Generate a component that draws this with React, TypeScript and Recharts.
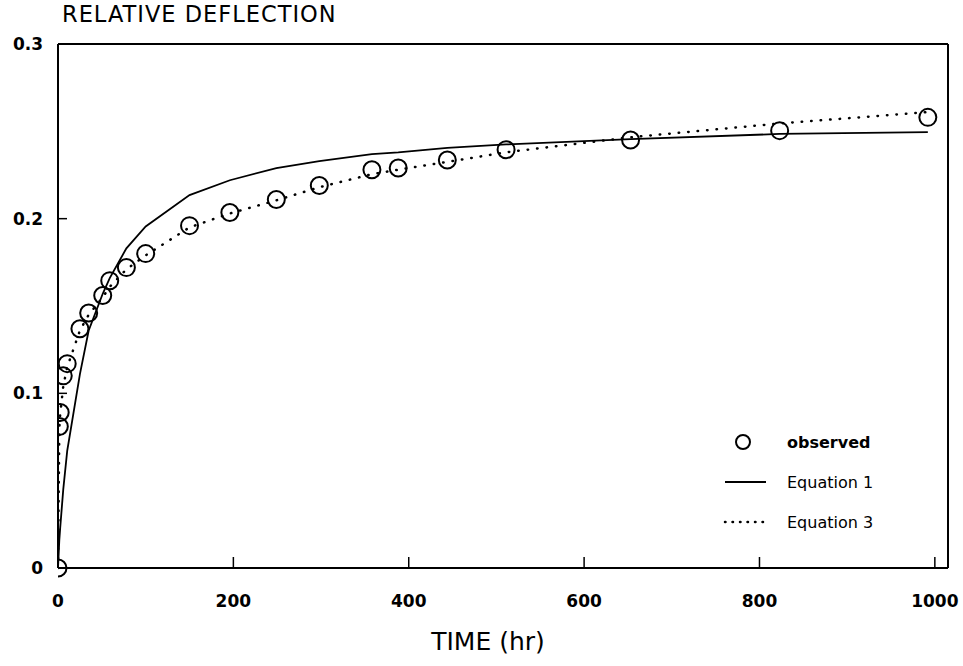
import React from "react";
import {ComposedChart, Line, Scatter, XAxis, YAxis, ReferenceLine, Legend, Label} from "recharts";

const obsTime = [0, 1.5, 2.5, 6, 10.5, 25, 35, 51, 59, 78, 100, 150, 196, 249, 298, 358, 388, 444, 511, 653, 823, 992];
const observed = [0, 0.081, 0.089, 0.110, 0.117, 0.137, 0.146, 0.156, 0.1645, 0.172, 0.180, 0.196, 0.2035, 0.211, 0.219, 0.228, 0.229, 0.2336, 0.2395, 0.245, 0.2504, 0.258];
const equation1 = [0, 0.016, 0.023, 0.045, 0.067, 0.111, 0.136, 0.157, 0.166, 0.183, 0.1955, 0.2135, 0.222, 0.229, 0.233, 0.237, 0.238, 0.2405, 0.2425, 0.2455, 0.2485, 0.2495];
const equation3 = [0, 0.08, 0.088, 0.104, 0.115, 0.136, 0.145, 0.155, 0.161, 0.171, 0.179, 0.195, 0.203, 0.2105, 0.218, 0.2255, 0.228, 0.2325, 0.238, 0.2466, 0.2545, 0.261];

const xTicks = [0, 200, 400, 600, 800, 1000];
const yTicks = [0, 0.1, 0.2, 0.3];

const obsData = obsTime.map((t, i) => ({t, v: observed[i]}));
const eq1Data = obsTime.map((t, i) => ({t, v: equation1[i]}));
const eq3Data = obsTime.map((t, i) => ({t, v: equation3[i]}));

const font = "'DejaVu Sans', sans-serif";

const Ring = (props: any) => (
    <circle cx={props.cx} cy={props.cy} r={8.5} fill="none" stroke="#000" strokeWidth={2} />
);

// ticks point into the plot, labels sit outside
const XTick = (props: any) => {
    const {x, y, payload} = props;
    return (
        <g>
            {payload.value > 0 && <line x1={x} y1={y} x2={x} y2={y - 11} stroke="#000" strokeWidth={1.5} />}
            <text x={x} y={y + 39} textAnchor="middle" fill="#000" fontSize={17} fontWeight="bold" fontFamily={font}>
                {payload.value}
            </text>
        </g>
    );
};

const YTick = (props: any) => {
    const {x, y, payload} = props;
    const v = payload.value;
    return (
        <g>
            {v > 0 && v < 0.3 && <line x1={x} y1={y} x2={x + 9} y2={y} stroke="#000" strokeWidth={1.5} />}
            <text x={x - 15} y={y + 6} textAnchor="end" fill="#000" fontSize={17} fontWeight="bold" fontFamily={font}>
                {v === 0 ? "0" : v.toFixed(1)}
            </text>
        </g>
    );
};

const renderLegend = () => (
    <div style={{fontFamily: font, fontSize: 16, fontWeight: "bold", color: "#000"}}>
        <div style={{display: "flex", alignItems: "center", height: 40}}>
            <svg width={72} height={20}><circle cx={28} cy={10} r={7} fill="none" stroke="#000" strokeWidth={2} /></svg>
            <span>observed</span>
        </div>
        <div style={{display: "flex", alignItems: "center", height: 40}}>
            <svg width={72} height={20}><line x1={10} y1={10} x2={51} y2={10} stroke="#000" strokeWidth={1.8} /></svg>
            <span style={{fontWeight: "normal"}}>Equation 1</span>
        </div>
        <div style={{display: "flex", alignItems: "center", height: 40}}>
            <svg width={72} height={20}><line x1={10} y1={10} x2={51} y2={10} stroke="#000" strokeWidth={2.5} strokeDasharray="0.5 7" strokeLinecap="round" /></svg>
            <span style={{fontWeight: "normal"}}>Equation 3</span>
        </div>
    </div>
);

export default function App() {
    return (
        <div style={{position: "absolute", left: 0, top: 0, width: 963, height: 666, background: "#fff"}}>
            <div style={{position: "absolute", left: 62, top: 1, fontFamily: font, fontSize: 22.5, color: "#000", letterSpacing: 1, zIndex: 2}}>
                RELATIVE DEFLECTION
            </div>
            <ComposedChart width={963} height={666} margin={{top: 44, right: 15, left: 0, bottom: 10}}>
                <XAxis
                    type="number"
                    dataKey="t"
                    domain={[0, 1015]}
                    ticks={xTicks}
                    allowDataOverflow
                    height={88}
                    tickSize={0}
                    tickMargin={0}
                    tickLine={false}
                    axisLine={{stroke: "#000", strokeWidth: 2}}
                    tick={<XTick />}
                >
                    <Label value="TIME (hr)" position="insideBottom" offset={6} dx={-15}
                           style={{fill: "#000", fontSize: 25, fontFamily: font}} />
                </XAxis>
                <YAxis
                    type="number"
                    domain={[0, 0.3]}
                    ticks={yTicks}
                    width={58}
                    tickSize={0}
                    tickMargin={0}
                    tickLine={false}
                    axisLine={{stroke: "#000", strokeWidth: 2}}
                    tick={<YTick />}
                />
                <ReferenceLine y={0.3} stroke="#000" strokeWidth={2} />
                <ReferenceLine x={1015} stroke="#000" strokeWidth={2} />
                <Legend
                    layout="vertical"
                    verticalAlign="middle"
                    align="center"
                    content={renderLegend}
                    wrapperStyle={{left: 715, top: 422, width: 200}}
                />
                <Line data={eq1Data} dataKey="v" type="linear" stroke="#000" strokeWidth={1.8}
                      dot={false} activeDot={false} isAnimationActive={false} name="Equation 1" />
                <Line data={eq3Data} dataKey="v" type="linear" stroke="#000" strokeWidth={2.5}
                      strokeDasharray="0.5 9" strokeLinecap="round"
                      dot={false} activeDot={false} isAnimationActive={false} name="Equation 3" />
                <Scatter data={obsData} dataKey="v" shape={Ring} isAnimationActive={false} name="observed" />
            </ComposedChart>
        </div>
    );
}
